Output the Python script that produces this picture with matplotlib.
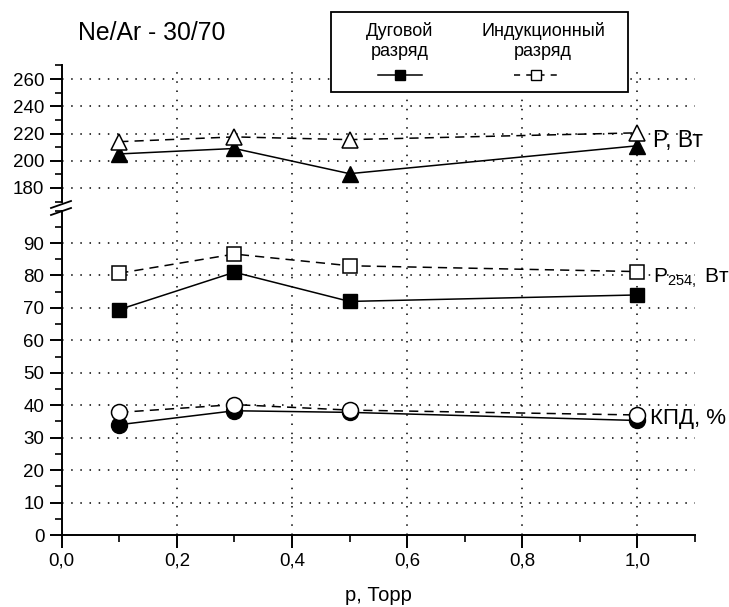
import matplotlib
matplotlib.use('Agg')
import matplotlib.pyplot as plt
from matplotlib.lines import Line2D
from matplotlib.patches import Rectangle
from matplotlib.ticker import MultipleLocator, FixedLocator

plt.rcParams['font.family'] = ['Liberation Sans', 'DejaVu Sans']
plt.rcParams['mathtext.fontset'] = 'custom'
plt.rcParams['mathtext.rm'] = 'Liberation Sans'
plt.rcParams['mathtext.it'] = 'Liberation Sans'

# давление, Торр
p = [0.1, 0.3, 0.5, 1.0]

# мощность P, Вт
P_arc = [205, 209, 190.5, 211]
P_ind = [214, 217.5, 215.5, 220.5]

# P254, Вт
P254_arc = [69.5, 81, 72, 74]
P254_ind = [80.7, 86.6, 83, 81.2]

# КПД, %
kpd_arc = [34, 38.3, 37.8, 35.3]
kpd_ind = [37.8, 40.2, 38.5, 37]

x_ticks = [0.0, 0.2, 0.4, 0.6, 0.8, 1.0]
x_labels = ['0,0', '0,2', '0,4', '0,6', '0,8', '1,0']
top_ticks = [180, 200, 220, 240, 260]
bot_ticks = [0, 10, 20, 30, 40, 50, 60, 70, 80, 90]

W, H = 729, 607
fig = plt.figure(figsize=(W / 100, H / 100), dpi=100)

left = 61.7 / W
width = (695 - 61.7) / W
ax_top = fig.add_axes([left, 1 - 201.6 / H, width, 136.2 / H])
ax_bot = fig.add_axes([left, 1 - 535 / H, width, 324.4 / H])

grid_kw = dict(color='black', linestyle=(0, (1, 5)), linewidth=1.1, zorder=0)

for ax in (ax_top, ax_bot):
    ax.set_xlim(0, 1.1)
    ax.spines['top'].set_visible(False)
    ax.spines['right'].set_visible(False)
    ax.spines['left'].set_linewidth(1.4)
    ax.xaxis.set_major_locator(FixedLocator(x_ticks))
    ax.xaxis.set_minor_locator(MultipleLocator(0.1))
    ax.tick_params(which='major', length=9, width=1.4, labelsize=13.5, direction='out')
    ax.tick_params(which='minor', length=5, width=1.2, direction='out')
    ax.patch.set_alpha(0)
    for xv in x_ticks[1:]:
        ax.axvline(xv, **grid_kw)

# верхняя часть оси
ax_top.set_ylim(170, 270)
ax_top.spines['bottom'].set_visible(False)
ax_top.tick_params(axis='x', which='both', bottom=False, labelbottom=False)
ax_top.yaxis.set_major_locator(FixedLocator(top_ticks))
ax_top.yaxis.set_minor_locator(MultipleLocator(10))
for yv in top_ticks:
    ax_top.axhline(yv, **grid_kw)

ax_top.plot(p, P_arc, '-', color='black', lw=1.1, marker='^', ms=12,
            mfc='black', mec='black', zorder=3, clip_on=False)
ax_top.plot(p, P_ind, color='black', lw=1.1, ls=(0, (6, 4)), marker='^', ms=12,
            mfc='white', mec='black', mew=1.1, zorder=4, clip_on=False)

# нижняя часть оси
ax_bot.set_ylim(0, 100)
ax_bot.spines['bottom'].set_linewidth(1.4)
ax_bot.set_xticklabels(x_labels)
ax_bot.yaxis.set_major_locator(FixedLocator(bot_ticks))
ax_bot.yaxis.set_minor_locator(MultipleLocator(5))
for yv in bot_ticks[1:]:
    ax_bot.axhline(yv, **grid_kw)

ax_bot.plot(p, P254_arc, '-', color='black', lw=1.1, marker='s', ms=10,
            mfc='black', mec='black', zorder=3)
ax_bot.plot(p, P254_ind, color='black', lw=1.1, ls=(0, (6, 4)), marker='s', ms=10,
            mfc='white', mec='black', mew=1.1, zorder=4)
ax_bot.plot(p, kpd_arc, '-', color='black', lw=1.1, marker='o', ms=11.5,
            mfc='black', mec='black', zorder=3)
ax_bot.plot(p, kpd_ind, color='black', lw=1.1, ls=(0, (6, 4)), marker='o', ms=11.5,
            mfc='white', mec='black', mew=1.1, zorder=4)

ax_bot.set_xlabel('p, Торр', fontsize=14.5, labelpad=12)

# подписи кривых
ax_top.text(p[-1] + 0.027, 215, 'P, Вт', fontsize=16.5, va='center', clip_on=False)
ax_bot.text(p[-1] + 0.027, 79, r'P$_{254,}$ Вт', fontsize=15, va='center', clip_on=False)
ax_bot.text(p[-1] + 0.022, 36, 'КПД, %', fontsize=16, va='center', clip_on=False)

# знак разрыва оси
for yb in (204.5, 211.5):
    fig.add_artist(Line2D([51 / W, 71 / W], [1 - (yb + 3.5) / H, 1 - (yb - 3.5) / H],
                          color='black', lw=1.3))

# заголовок
fig.text(78 / W, 1 - 33.5 / H, 'Ne/Ar - 30/70', fontsize=17.8, va='center')

# легенда
fig.add_artist(Rectangle((331 / W, 1 - 92 / H), (628 - 331) / W, 80 / H,
                         facecolor='white', edgecolor='black', lw=1.3, zorder=5))
fig.text(400 / W, 1 - 41 / H, 'Дуговой\nразряд', fontsize=13, ha='center',
         va='center', linespacing=1.3, zorder=6)
fig.text(543 / W, 1 - 41 / H, 'Индукционный\nразряд', fontsize=13, ha='center',
         va='center', linespacing=1.3, zorder=6)
fig.add_artist(Line2D([378 / W, 422 / W], [1 - 75 / H] * 2, color='black', lw=1.1,
                      zorder=6))
fig.add_artist(Line2D([400 / W], [1 - 75 / H], marker='s', ms=7, mfc='black',
                      mec='black', zorder=7))
fig.add_artist(Line2D([514 / W, 558 / W], [1 - 75 / H] * 2, color='black', lw=1.1,
                      ls=(0, (4, 4)), zorder=6))
fig.add_artist(Line2D([536 / W], [1 - 75 / H], marker='s', ms=7, mfc='white',
                      mec='black', zorder=7))

fig.savefig('out.png', dpi=100)
